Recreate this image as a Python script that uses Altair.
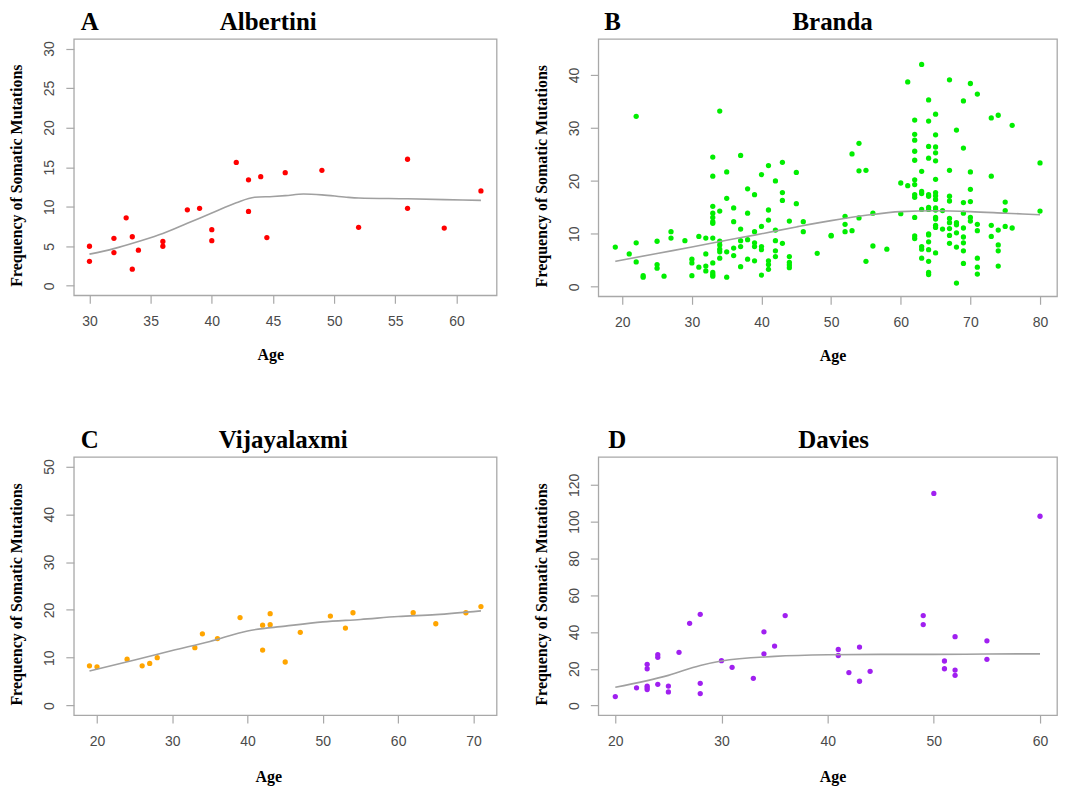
import altair as alt
import pandas as pd

# ---------------- Panel A: Albertini ----------------
a_age = [30, 30, 32, 32, 33, 33.5, 33.5, 34, 36, 36, 38, 39, 40, 40, 42, 43, 43,
         44, 44.5, 46, 49, 52, 56, 56, 59, 62]
a_freq = [5.0, 3.1, 6.0, 4.2, 8.6, 6.2, 2.1, 4.5, 5.6, 5.0, 9.6, 9.8, 7.1, 5.7, 15.6,
          13.4, 9.4, 13.8, 6.1, 14.3, 14.6, 7.4, 16.0, 9.8, 7.3, 12.0]
a_fit_age = [30, 32, 34, 36, 38, 40, 42, 43.5, 45, 46, 47.5, 49, 51, 52, 56, 59, 62]
a_fit = [4.0, 4.7, 5.6, 6.6, 7.9, 9.2, 10.5, 11.2, 11.3, 11.4, 11.6, 11.5, 11.2, 11.1,
         11.0, 10.9, 10.8]

# ---------------- Panel B: Branda ----------------
b_age = [19, 21, 22, 22, 22, 23, 23, 25, 25, 25, 26, 27, 27, 29, 30, 30, 30, 31, 31,
         32, 32, 32, 32,
         33, 33, 33, 33, 33, 33, 33, 33, 33, 33, 33, 33,
         34, 34, 34, 34, 34, 34, 34,
         35, 35, 35, 35,
         36, 36, 36, 36,
         37, 37, 37, 37, 37,
         38, 38, 38, 38,
         39, 39, 39, 39, 39,
         40, 40, 40, 40, 40,
         41, 41, 41, 41, 41, 41,
         42, 42, 42, 42, 42,
         43, 43, 43, 43,
         44, 44, 44, 44, 44,
         45, 45, 46, 46, 48, 50, 50, 52, 52, 52, 53, 53, 54, 54, 54, 55, 55, 56, 56,
         58, 60, 60, 61, 61,
         62, 62, 62, 62, 62, 62, 62, 62, 62, 62, 62, 62,
         63, 63, 63, 63, 63, 63, 63, 63,
         64, 64, 64, 64, 64, 64, 64, 64, 64, 64, 64, 64, 64, 64, 64,
         65, 65, 65, 65, 65, 65, 65, 65, 65, 65, 65, 65, 65, 65, 65, 65,
         66, 66,
         67, 67, 67, 67, 67, 67, 67, 67, 67,
         68, 68, 68, 68, 68, 68,
         69, 69, 69, 69, 69, 69, 69, 69, 69,
         70, 70, 70, 70, 70, 70,
         71, 71, 71, 71, 71, 71,
         73, 73, 73, 73,
         74, 74, 74, 74, 74,
         75, 75, 75, 76, 76, 80, 80]
b_freq = [7.5, 6.2, 32.2, 8.3, 4.7, 2.1, 1.8, 8.6, 4.2, 3.5, 2.0, 10.4, 9.2, 8.7,
          5.2, 4.5, 2.1, 9.5, 3.7,
          9.2, 6.2, 3.9, 3.0,
          24.5, 20.9, 15.2, 13.9, 13.1, 12.3, 12.0, 9.2, 4.5, 2.7, 2.3, 2.0,
          33.2, 14.3, 8.6, 7.9, 7.1, 6.6, 5.4,
          21.7, 16.7, 6.6, 1.8,
          14.9, 12.3, 7.3, 5.9,
          24.8, 10.9, 8.7, 7.6, 3.8,
          18.5, 13.9, 8.9, 5.2,
          17.4, 10.4, 8.3, 7.6, 4.9,
          21.2, 11.4, 7.6, 7.0, 2.2,
          22.9, 14.5, 12.6, 4.9, 4.2, 3.3,
          20.0, 10.7, 8.7, 6.8, 5.7,
          23.5, 17.8, 16.3, 8.2,
          12.4, 5.7, 4.6, 4.1, 3.6,
          21.6, 15.7, 12.3, 10.4, 6.3, 9.7, 9.6, 13.3, 11.8, 10.4, 25.1, 10.6,
          27.1, 21.9, 13.0, 22.0, 4.8, 13.9, 7.7,
          7.1, 19.6, 13.8, 38.7, 19.1,
          31.5, 28.8, 27.7, 25.6, 23.9, 20.2, 19.3, 17.4, 16.9, 13.1, 9.6, 9.1,
          42.0, 21.8, 18.0, 17.6, 14.6, 7.6, 7.1, 5.4,
          35.3, 31.3, 26.5, 24.3, 17.4, 17.1, 15.0, 14.6, 10.0, 9.8, 8.5, 7.0, 4.8, 2.7, 2.3,
          32.6, 28.7, 26.4, 25.3, 23.8, 20.3, 17.8, 17.2, 16.5, 14.9, 14.5, 13.1, 12.8,
          11.6, 11.2, 6.4,
          14.4, 10.9,
          39.1, 22.0, 17.1, 16.2, 12.9, 12.1, 11.0, 9.7, 8.2,
          29.6, 12.1, 11.7, 10.2, 7.5, 0.7,
          35.1, 26.2, 15.9, 13.9, 11.1, 9.4, 8.3, 6.8, 4.4,
          38.4, 21.7, 18.4, 16.1, 13.1, 12.4,
          36.4, 11.8, 10.6, 5.4, 3.7, 2.4,
          31.9, 20.9, 11.6, 9.5,
          32.4, 10.7, 7.9, 6.8, 3.9,
          16.0, 14.4, 11.4, 30.5, 11.1, 23.4, 14.3]
b_fit_age = [19, 25, 30, 35, 39, 45, 50, 55, 60, 65, 70, 75, 80]
b_fit = [4.8, 6.3, 7.5, 8.8, 9.75, 11.3, 12.5, 13.5, 14.2, 14.35, 14.2, 13.9, 13.6]

# ---------------- Panel C: Vijayalaxmi ----------------
c_age = [19, 20, 24, 26, 27, 28, 33, 34, 36, 39, 42, 42, 43, 43, 45, 47, 51, 53, 54,
         62, 65, 69, 71]
c_freq = [8.3, 8.1, 9.7, 8.3, 8.8, 10.0, 12.1, 15.0, 14.0, 18.4, 16.8, 11.6, 19.2, 16.9,
          9.1, 15.3, 18.7, 16.2, 19.4, 19.4, 17.1, 19.4, 20.7]
c_fit_age = [19, 25, 30, 35, 40, 45, 50, 55, 60, 65, 71]
c_fit = [7.2, 9.5, 11.5, 13.4, 15.6, 16.6, 17.5, 18.0, 18.6, 19.0, 19.8]

# ---------------- Panel D: Davies ----------------
d_age = [20, 22, 23, 23, 23, 23, 23, 24, 24, 24, 25, 25, 26, 27, 28, 28, 28, 30, 31,
         33, 34, 34, 35, 36, 41, 41, 42, 43, 43, 44, 49, 49, 50, 51, 51, 52, 52, 52,
         55, 55, 60]
d_freq = [4.9, 9.6, 22.4, 20.0, 10.6, 9.7, 8.7, 27.6, 26.2, 11.5, 10.6, 7.4, 28.9,
          44.7, 49.6, 12.1, 6.5, 24.4, 20.8, 14.8, 40.1, 28.1, 32.3, 48.9, 30.5, 27.2,
          17.9, 31.8, 13.2, 18.6, 48.9, 44.0, 115.3, 24.2, 20.0, 37.4, 19.3, 16.4,
          35.2, 25.1, 102.9]
d_fit_age = [20, 25, 28, 30, 35, 40, 45, 50, 55, 60]
d_fit = [9.9, 16.4, 21.8, 24.2, 26.7, 27.6, 27.8, 27.8, 28.0, 28.1]

Y_TITLE = "Frequency of Somatic Mutations"
SERIF = "Liberation Serif"


def panel(letter, name, ages, freqs, fit_ages, fit_vals, color, xdom, ydom,
          xticks, yticks, w, h, name_x, letter_x, age_x, age_y):
    pts_df = pd.DataFrame({"Age": ages, "Freq": freqs})
    fit_df = pd.DataFrame({"Age": fit_ages, "Freq": fit_vals})
    xenc = alt.X("Age:Q",
                 scale=alt.Scale(domain=xdom, nice=False, zero=False),
                 axis=alt.Axis(values=xticks, title="Age", titleX=age_x, titleY=age_y,
                               titleAlign="center", titleBaseline="middle",
                               labelFlush=False, labelOverlap=False))
    yenc = alt.Y("Freq:Q",
                 scale=alt.Scale(domain=ydom, nice=False, zero=False),
                 axis=alt.Axis(values=yticks, title=Y_TITLE, titleX=-57,
                               titleY=h / 2 + 8, titleAngle=270,
                               titleAlign="center", titleBaseline="middle",
                               labelAngle=270, labelAlign="center",
                               labelBaseline="bottom", labelFlush=False,
                               labelOverlap=False))
    pts = alt.Chart(pts_df).mark_circle(size=28, color=color, opacity=1).encode(
        x=xenc, y=yenc)
    line = alt.Chart(fit_df).mark_line(color="#a0a0a0", strokeWidth=1.6,
                                       interpolate="monotone").encode(x=xenc, y=yenc)
    lab = alt.Chart(pd.DataFrame({"t": [letter]})).mark_text(
        font=SERIF, fontWeight="bold", fontSize=25, align="left",
        baseline="alphabetic", color="black").encode(
        x=alt.value(letter_x), y=alt.value(-9), text="t:N")
    ttl = alt.Chart(pd.DataFrame({"t": [name]})).mark_text(
        font=SERIF, fontWeight="bold", fontSize=25, align="center",
        baseline="alphabetic", color="black").encode(
        x=alt.value(name_x), y=alt.value(-9), text="t:N")
    return alt.layer(pts, line, lab, ttl).properties(width=w, height=h)


pA = panel("A", "Albertini", a_age, a_freq, a_fit_age, a_fit, "#ff0000",
           [28.72, 63.28], [-1.2, 31.2], [30, 35, 40, 45, 50, 55, 60],
           [0, 5, 10, 15, 20, 25, 30], 424, 257, 195, 7, 197, 59)
pB = panel("B", "Branda", b_age, b_freq, b_fit_age, b_fit, "#00ee00",
           [16.56, 82.44], [-1.8, 46.8], [20, 30, 40, 50, 60, 70, 80],
           [0, 10, 20, 30, 40], 460, 258, 235, 6, 235, 59)
pC = panel("C", "Vijayalaxmi", c_age, c_freq, c_fit_age, c_fit, "#ffa500",
           [16.92, 73.08], [-2, 52], [20, 30, 40, 50, 60, 70],
           [0, 10, 20, 30, 40, 50], 424, 259, 210, 7, 195, 62)
pD = panel("D", "Davies", d_age, d_freq, d_fit_age, d_fit, "#a020f0",
           [18.4, 61.6], [-5.2, 135.2], [20, 30, 40, 50, 60],
           [0, 20, 40, 60, 80, 100, 120], 460, 259, 236, 10, 235, 62)

top = alt.hconcat(pA, pB, spacing=35)
bottom = alt.hconcat(pC, pD, spacing=35)

chart = alt.vconcat(top, bottom, spacing=63).properties(
    padding=0, background="white"
).configure_view(
    stroke="#a8a8a8", strokeWidth=1.3
).configure_axis(
    domain=False, grid=False, tickColor="#a8a8a8", tickSize=8, tickWidth=1.2,
    labelFont="Liberation Sans", labelFontSize=14, labelColor="#4a4a4a",
    titleFont=SERIF, titleFontSize=16, titleFontWeight="bold", titleColor="black"
).configure_axisX(
    labelPadding=11
).configure_axisY(
    labelPadding=9
)

chart.save("out.html", embed_options={"renderer": "svg", "actions": False})
